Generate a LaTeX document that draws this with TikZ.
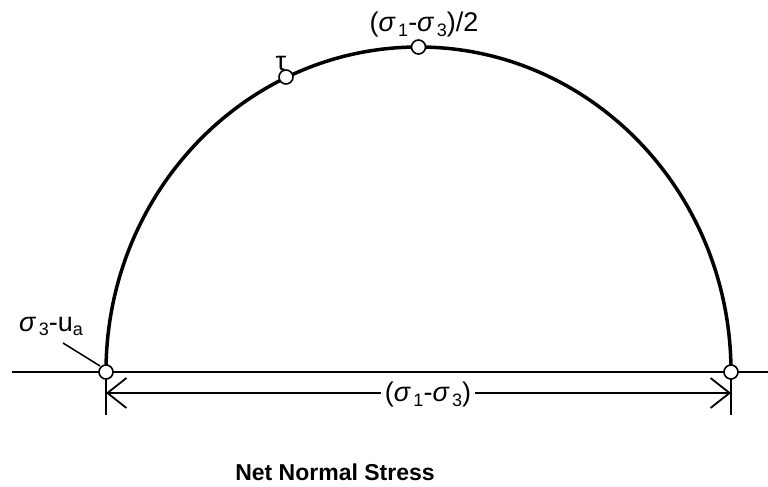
\documentclass[tikz,border=0pt]{standalone}
\usepackage{fontspec}
\setmainfont{Liberation Sans}
\usetikzlibrary{arrows.meta}
\newcommand{\sgm}[1]{{\itshape σ}\kern0.12em\raisebox{-0.3ex}{\fontsize{18}{18}\selectfont #1}}
\begin{document}
\begin{tikzpicture}[x=1pt,y=-1pt,
  curve/.style={line width=3.5pt},
  axis/.style={line width=1.3pt},
  dim/.style={line width=1.8pt},
  tick/.style={line width=1.8pt},
  pt/.style={circle,draw,fill=white,inner sep=0pt,minimum size=14pt,line width=1.6pt},
  lbl/.style={font=\fontsize{27}{30}\selectfont,inner sep=1pt}
]
\useasboundingbox (0,0) rectangle (768,487);
\coordinate (L) at (106,372);
\coordinate (R) at (731,372);
\coordinate (T) at (418.5,47);
\coordinate (Tau) at (286,77);
\coordinate (AxL) at (12,372);
\coordinate (AxR) at (768,372);
\coordinate (DL) at (106,393);
\coordinate (DR) at (731,393);
\coordinate (TL) at (106,415);
\coordinate (TR) at (731,415);
% axis
\draw[axis] (AxL) -- (AxR);
% Mohr circle
\draw[curve] (L) arc[start angle=180,end angle=360,x radius=312.5,y radius=325];
% ticks
\draw[tick] (L) -- (TL);
\draw[tick] (R) -- (TR);
% dimension line
\draw[dim,{Straight Barb[length=19pt,width=30pt]}-{Straight Barb[length=19pt,width=30pt]}] (DL) -- (DR);
\node[lbl,fill=white,inner xsep=4pt] (dimlab) at (428,395) {(\sgm{1}-\sgm{3})};
% leader
\node[lbl,anchor=base east] (s3) at (84,331) {\sgm{3}-u\raisebox{-0.3ex}{\fontsize{18}{18}\selectfont a}};
\coordinate (LdA) at (63,343);
\coordinate (LdB) at (100,366);
\draw[line width=1.5pt] (LdA) -- (LdB);
% points
\node[pt] (pL) at (L) {};
\node[pt] (pR) at (R) {};
\node[pt] (pT) at (T) {};
\node[pt] (pTau) at (Tau) {};
% labels
\node[lbl] (toplab) at (424,25) {(\sgm{1}-\sgm{3})/2};
\node[lbl] (taulab) at (281,63) {τ};
\node[font=\fontsize{23}{26}\selectfont\bfseries] (xlab) at (335,472) {Net Normal Stress};
\end{tikzpicture}
\end{document}
